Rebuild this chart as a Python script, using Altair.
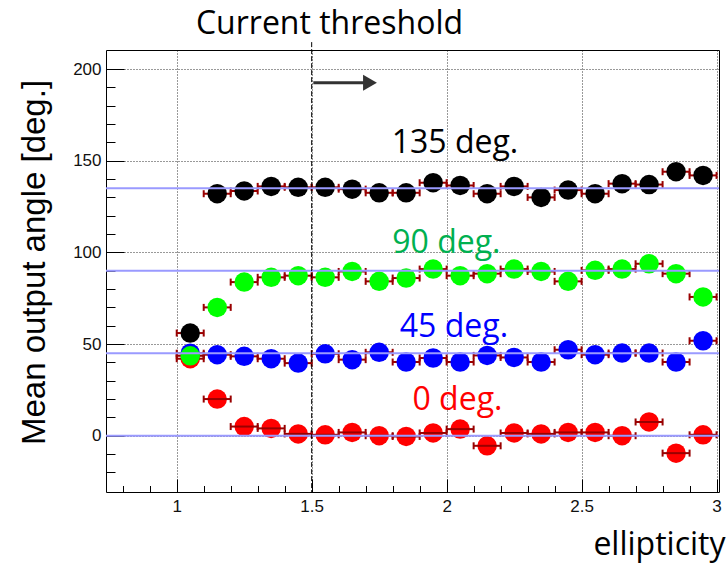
import altair as alt
import pandas as pd

# ---------------- data ----------------
ellipticity = [1.05, 1.15, 1.25, 1.35, 1.45, 1.55, 1.65, 1.75, 1.85, 1.95,
               2.05, 2.15, 2.25, 2.35, 2.45, 2.55, 2.65, 2.75, 2.85, 2.95]
half_bin = [0.05] * 20

angle_0 = [42.0, 20.0, 5.0, 4.0, 1.0, 0.5, 1.8, 0.0, -0.4, 1.5,
           3.6, -5.5, 1.5, 1.0, 1.8, 1.8, 0.0, 7.5, -9.5, 0.5]
angle_45 = [45.0, 44.2, 43.3, 42.0, 39.6, 44.7, 41.5, 45.5, 40.2, 42.4,
            40.2, 43.8, 42.7, 40.2, 46.9, 44.2, 45.1, 45.1, 40.2, 51.8]
angle_90 = [43.6, 70.0, 83.8, 86.4, 87.3, 86.4, 89.6, 84.2, 86.0, 90.9,
            87.3, 88.4, 90.9, 89.6, 84.2, 90.2, 90.9, 93.8, 88.4, 75.7]
angle_135 = [56.0, 132.0, 133.5, 136.0, 135.5, 135.5, 134.5, 132.5, 132.5, 138.0,
             136.5, 132.0, 136.0, 130.0, 134.0, 132.0, 137.5, 137.0, 144.0, 142.0]

series_names = ["0 deg.", "45 deg.", "90 deg.", "135 deg."]
series_values = [angle_0, angle_45, angle_90, angle_135]
marker_colors = ["#ff0000", "#0000ff", "#00ff00", "#000000"]
errbar_color = "#990000"

reference_angles = [0, 45, 90, 135]

label_text = ["135 deg.", "90 deg.", "45 deg.", "0 deg."]
label_x = [2.031, 1.999, 2.027, 2.040]
label_y = [154.0, 99.5, 54.0, 14.0]
label_color = ["#000000", "#00b050", "#0000ff", "#ff0000"]

threshold_x = [1.5]
threshold_top = [214.7]
threshold_bottom = [-30.7]
threshold_text = ["Current threshold"]
threshold_text_x = [1.566]
threshold_text_y = [219.4]
arrow_x = [1.506]
arrow_x2 = [1.716]
arrow_y = [192.5]

x_domain = [0.738, 3.009]
y_domain = [-30.7, 210.4]
x_major = [1, 1.5, 2, 2.5, 3]
y_major = [0, 50, 100, 150, 200]
x_ticks = [0.8, 0.9, 1.0, 1.1, 1.2, 1.3, 1.4, 1.5, 1.6, 1.7, 1.8, 1.9, 2.0,
           2.1, 2.2, 2.3, 2.4, 2.5, 2.6, 2.7, 2.8, 2.9, 3.0]
y_ticks = [-20, -10, 0, 10, 20, 30, 40, 50, 60, 70, 80, 90, 100, 110, 120,
           130, 140, 150, 160, 170, 180, 190, 200]

W, H = 613, 442

# ---------------- tables ----------------
rows = []
for name, vals in zip(series_names, series_values):
    for x, hw, v in zip(ellipticity, half_bin, vals):
        rows.append({"series": name, "x": x, "hw": hw, "angle": v})
df = pd.DataFrame(rows)

xs = alt.Scale(domain=x_domain, nice=False, zero=False)
ys = alt.Scale(domain=y_domain, nice=False, zero=False)

base = alt.Chart(df)

# axis layer: labels, grid, titles
axes_main = base.mark_point(opacity=0).encode(
    x=alt.X("x:Q", scale=xs, axis=alt.Axis(
        values=x_major, format="~g", grid=True, gridColor="#000000",
        gridDash=[1, 2], gridWidth=1, gridOpacity=0.8, ticks=False, domain=False,
        labelFont="Liberation Sans", labelFontSize=17, labelColor="#111111",
        labelPadding=6, labelFlush=False,
        title="ellipticity", titleFont="Open Sans", titleFontSize=32,
        titleFontWeight="normal", titleColor="#000000",
        titleX=619, titleY=62, titleAlign="right", titleBaseline="alphabetic")),
    y=alt.Y("angle:Q", scale=ys, axis=alt.Axis(
        values=y_major, grid=True, gridColor="#000000", gridDash=[1, 2],
        gridWidth=1, gridOpacity=0.8, ticks=False, domain=False,
        labelFont="Liberation Sans", labelFontSize=17, labelColor="#111111",
        labelPadding=5, labelFlush=False,
        title="Mean output angle [deg.]", titleFont="Liberation Sans",
        titleFontSize=33, titleFontWeight="normal", titleColor="#000000",
        titleX=-72, titleY=212, titleAngle=270, titleAlign="center",
        titleBaseline="middle")),
)

# axis layer: inside ticks (major + minor)
axes_ticks = base.mark_point(opacity=0).encode(
    x=alt.X("x:Q", scale=xs, axis=alt.Axis(
        orient="top", offset=-H, values=x_ticks, labels=False, domain=False,
        grid=False, title=None, tickColor="#000000", tickWidth=1,
        tickSize={"condition": {"test": "abs(datum.value*2 - round(datum.value*2)) < 0.001",
                                "value": 13}, "value": 6.5})),
    y=alt.Y("angle:Q", scale=ys, axis=alt.Axis(
        orient="right", offset=-W, values=y_ticks, labels=False, domain=False,
        grid=False, title=None, tickColor="#000000", tickWidth=1,
        tickSize={"condition": {"test": "abs(datum.value % 50) < 0.001",
                                "value": 18}, "value": 9})),
)


def series_layers(name, color, bars_on_top=False):
    src = base.transform_filter(alt.datum.series == name).transform_calculate(
        xlo="datum.x - datum.hw", xhi="datum.x + datum.hw")
    yenc = alt.Y("angle:Q", scale=ys, axis=None)
    bars = src.mark_rule(color=errbar_color, strokeWidth=2).encode(
        x=alt.X("xlo:Q", scale=xs, axis=None), x2="xhi:Q", y=yenc)
    caps = src.transform_fold(["xlo", "xhi"], as_=["end", "xe"]).mark_tick(
        color=errbar_color, orient="vertical", size=7, thickness=2, opacity=1).encode(
        x=alt.X("xe:Q", scale=xs, axis=None), y=yenc)
    pts = src.mark_circle(color=color, size=380, opacity=1).encode(
        x=alt.X("x:Q", scale=xs, axis=None), y=yenc)
    if bars_on_top:
        return [pts, bars, caps]
    return [bars, caps, pts]


layers = [axes_main, axes_ticks]
for name, col in zip(series_names, marker_colors):
    layers += series_layers(name, col, bars_on_top=(name == "0 deg."))

ref_df = pd.DataFrame({"ref": reference_angles})
ref_lines = alt.Chart(ref_df).mark_rule(color="#9a9aff", strokeWidth=2).encode(
    y=alt.Y("ref:Q", scale=ys, axis=None))

thr_df = pd.DataFrame({"x": threshold_x, "top": threshold_top, "bottom": threshold_bottom,
                       "text": threshold_text, "tx": threshold_text_x, "ty": threshold_text_y,
                       "ax": arrow_x, "ax2": arrow_x2, "ay": arrow_y})
thr_line = alt.Chart(thr_df).mark_rule(color="#000000", strokeWidth=1, strokeDash=[5, 2]).encode(
    x=alt.X("x:Q", scale=xs, axis=None),
    y=alt.Y("top:Q", scale=ys, axis=None), y2="bottom:Q")
thr_text = alt.Chart(thr_df).mark_text(
    font="Open Sans", fontSize=32, align="center", baseline="alphabetic", color="#000000").encode(
    x=alt.X("tx:Q", scale=xs, axis=None), y=alt.Y("ty:Q", scale=ys, axis=None), text="text:N")
arrow_shaft = alt.Chart(thr_df).mark_rule(color="#333333", strokeWidth=3).encode(
    x=alt.X("ax:Q", scale=xs, axis=None), x2="ax2:Q", y=alt.Y("ay:Q", scale=ys, axis=None))
arrow_head = alt.Chart(thr_df).mark_point(
    shape="triangle-right", size=256, filled=True, color="#333333", opacity=1).encode(
    x=alt.X("ax2:Q", scale=xs, axis=None), y=alt.Y("ay:Q", scale=ys, axis=None))

lab_df = pd.DataFrame({"text": label_text, "x": label_x, "y": label_y, "c": label_color})
labels = alt.Chart(lab_df).mark_text(
    font="Open Sans", fontSize=32, align="center", baseline="alphabetic").encode(
    x=alt.X("x:Q", scale=xs, axis=None), y=alt.Y("y:Q", scale=ys, axis=None),
    text="text:N", color=alt.Color("c:N", scale=None))

layers += [ref_lines, thr_line, thr_text, arrow_shaft, arrow_head, labels]

chart = alt.layer(*layers).resolve_axis(x="independent", y="independent").properties(
    width=W, height=H,
    padding={"left": 106, "top": 50, "right": 7, "bottom": 71},
    autosize=alt.AutoSizeParams(type="none"),
    background="#ffffff",
).configure_view(stroke="#000000", strokeWidth=1)

chart.save("out.html", embed_options={"renderer": "svg", "actions": False})
